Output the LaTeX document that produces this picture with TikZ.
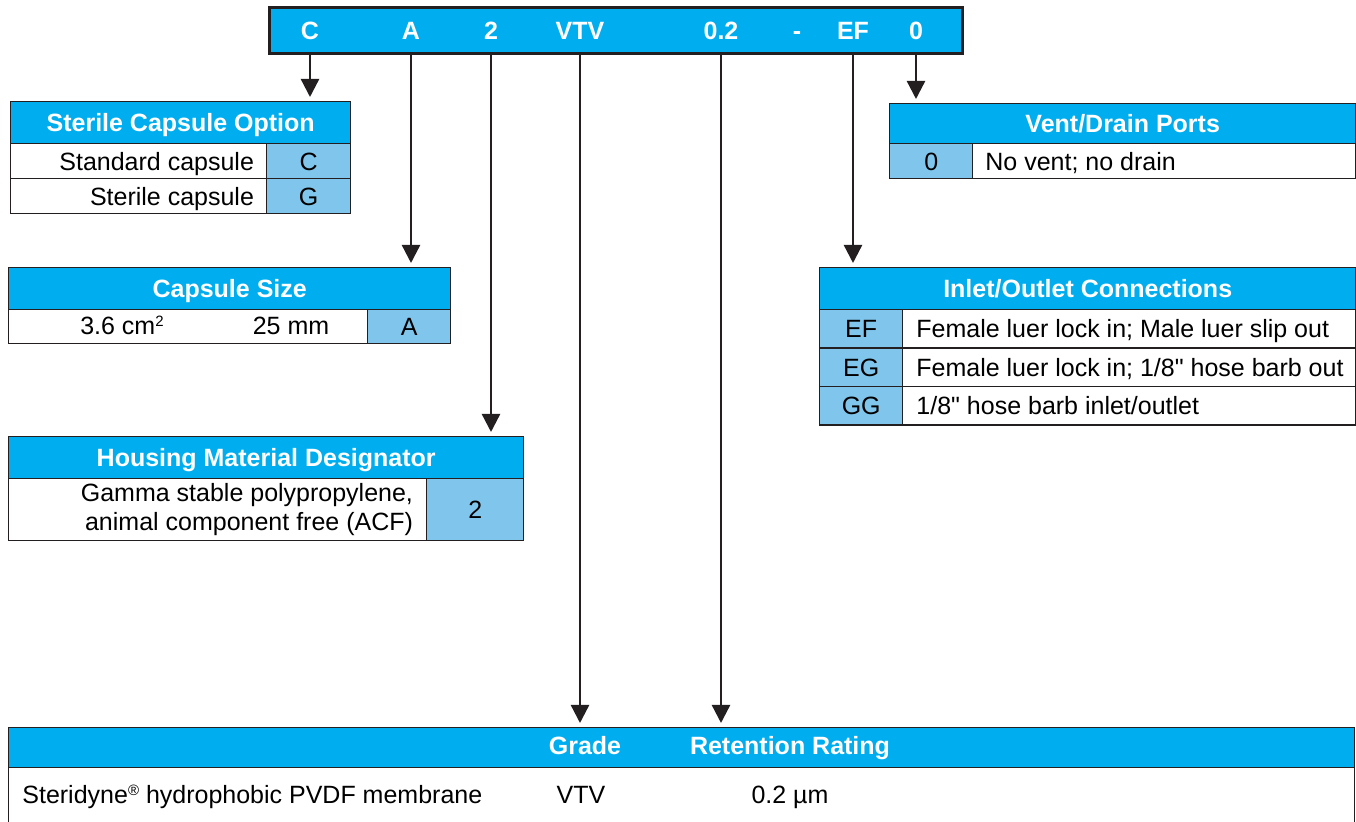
\documentclass[tikz,border=0pt]{standalone}
\usepackage{fontspec}
\setmainfont{Liberation Sans}
\usetikzlibrary{arrows.meta}
\definecolor{hdrblue}{HTML}{00AEEF}
\definecolor{codeblue}{HTML}{80C6EC}
\definecolor{rulegray}{HTML}{231F20}
\newcommand\tblfont{\fontsize{12.5}{14.5}\selectfont}
\newcommand\smallsup[1]{\raisebox{4.2pt}{\fontsize{7.5}{8}\selectfont #1}}
\tikzset{
  cell/.style={draw=rulegray, line width=0.7pt, fill=white, inner sep=0pt, anchor=north west},
  codecell/.style={cell, fill=codeblue},
  hdr/.style={cell, fill=hdrblue, text=white, font=\tblfont\bfseries, text height=9pt, text depth=0pt},
  lbl/.style={inner sep=0pt, font=\tblfont, text height=9pt, text depth=0pt},
  partno/.style={inner sep=0pt, text=white, font=\tblfont\bfseries, text height=9pt, text depth=0pt},
  feed/.style={draw=rulegray, line width=1.2pt, -{Triangle[width=9pt,length=9pt]}, shorten >=2pt},
}
\begin{document}
\begin{tikzpicture}[x=0.5pt,y=-0.5pt]
  \useasboundingbox (0,0) rectangle (1356,822);

  % part number bar
  \node[cell, fill=hdrblue, line width=1.5pt, minimum width=346.5pt, minimum height=23pt] (bar) at (268,6) {};
  \node[partno] (cC) at (310,31) {C};
  \node[partno] (cA) at (411,31) {A};
  \node[partno] (c2) at (491,31) {2};
  \node[partno] (cVTV) at (580,31) {VTV};
  \node[partno] (c02) at (721,31) {0.2};
  \node[partno] (cDash) at (797,31) {-};
  \node[partno] (cEF) at (853,31) {EF};
  \node[partno] (c0) at (916,31) {0};

  % sterile capsule option
  \node[hdr, minimum width=170pt, minimum height=21pt] (optH) at (10,101) {Sterile Capsule Option};
  \node[cell, minimum width=128pt, minimum height=17.5pt] (optA) at (10,143) {};
  \node[codecell, minimum width=42pt, minimum height=17.5pt] (optAc) at (266,143) {};
  \node[cell, minimum width=128pt, minimum height=17.5pt] (optB) at (10,178) {};
  \node[codecell, minimum width=42pt, minimum height=17.5pt] (optBc) at (266,178) {};
  \node[lbl, anchor=east] at ([xshift=-6.5pt]optA.east) {Standard capsule};
  \node[lbl] at (optAc.center) {C};
  \node[lbl, anchor=east] at ([xshift=-6.5pt]optB.east) {Sterile capsule};
  \node[lbl] at (optBc.center) {G};

  % capsule size
  \node[hdr, minimum width=221pt, minimum height=21pt] (sizeH) at (8,267) {Capsule Size};
  \node[cell, minimum width=179.5pt, minimum height=17pt] (sizeA) at (8,309) {};
  \node[codecell, minimum width=41.5pt, minimum height=17pt] (sizeAc) at (367,309) {};
  \node[lbl] at (122,326) {3.6 cm\smallsup{2}};
  \node[lbl] at (291,326) {25 mm};
  \node[lbl] at (sizeAc.center) {A};

  % housing material
  \node[hdr, minimum width=257.5pt, minimum height=21pt] (houseH) at (8,436) {Housing Material Designator};
  \node[cell, minimum width=209pt, minimum height=31pt] (houseA) at (8,478) {};
  \node[codecell, minimum width=48.5pt, minimum height=31pt] (houseAc) at (426,478) {};
  \node[inner sep=0pt, font=\tblfont, align=right, anchor=east] at ([xshift=-7pt]houseA.east)
    {Gamma stable polypropylene,\\animal component free (ACF)};
  \node[lbl] at (houseAc.center) {2};

  % vent/drain ports
  \node[hdr, minimum width=233pt, minimum height=20pt] (ventH) at (889,103) {Vent/Drain Ports};
  \node[codecell, minimum width=41.5pt, minimum height=17.5pt] (ventAc) at (889,143) {};
  \node[cell, minimum width=191.5pt, minimum height=17.5pt] (ventA) at (972,143) {};
  \node[lbl] at (ventAc.center) {0};
  \node[lbl, anchor=west] at ([xshift=6.5pt]ventA.west) {No vent; no drain};

  % inlet/outlet connections
  \node[hdr, minimum width=268pt, minimum height=21pt] (portH) at (819,267) {Inlet/Outlet Connections};
  \node[codecell, minimum width=41.5pt, minimum height=19.2pt] (portAc) at (819,309) {};
  \node[cell, minimum width=226.5pt, minimum height=19.2pt] (portA) at (902,309) {};
  \node[codecell, minimum width=41.5pt, minimum height=19.2pt] (portBc) at (819,347.4) {};
  \node[cell, minimum width=226.5pt, minimum height=19.2pt] (portB) at (902,347.4) {};
  \node[codecell, minimum width=41.5pt, minimum height=19.2pt] (portCc) at (819,385.8) {};
  \node[cell, minimum width=226.5pt, minimum height=19.2pt] (portC) at (902,385.8) {};
  \node[lbl] at (portAc.center) {EF};
  \node[lbl] at (portBc.center) {EG};
  \node[lbl] at (portCc.center) {GG};
  \node[lbl, anchor=west] at ([xshift=7pt]portA.west) {Female luer lock in; Male luer slip out};
  \node[lbl, anchor=west] at ([xshift=7pt]portB.west) {Female luer lock in; 1/8\textquotedbl{} hose barb out};
  \node[lbl, anchor=west] at ([xshift=7pt]portC.west) {1/8\textquotedbl{} hose barb inlet/outlet};

  % membrane table
  \node[hdr, minimum width=673pt, minimum height=20pt] (memH) at (8,727) {};
  \node[cell, minimum width=673pt, minimum height=35pt] (memA) at (8,767) {};
  \node[partno] (gradeH) at (585,746) {Grade};
  \node[partno] (rateH) at (790,746) {Retention Rating};
  \node[lbl, anchor=west] at (22,795) {Steridyne\smallsup{®} hydrophobic PVDF membrane};
  \node[lbl] at (581,795) {VTV};
  \node[lbl] at (790,795) {0.2 µm};

  % connectors
  \draw[feed] (cC |- bar.south) -- (cC |- optH.north);
  \draw[feed] (cA |- bar.south) -- (cA |- sizeH.north);
  \draw[feed] (c2 |- bar.south) -- (c2 |- houseH.north);
  \draw[feed] (cVTV |- bar.south) -- (cVTV |- memH.north);
  \draw[feed] (c02 |- bar.south) -- (c02 |- memH.north);
  \draw[feed] (cEF |- bar.south) -- (cEF |- portH.north);
  \draw[feed] (c0 |- bar.south) -- (c0 |- ventH.north);
\end{tikzpicture}
\end{document}
